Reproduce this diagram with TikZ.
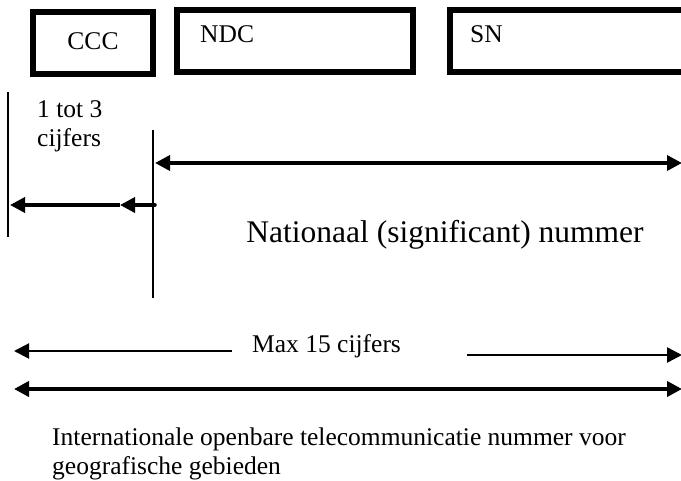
\documentclass[tikz,border=0pt]{standalone}
\usepackage{fontspec}
\setmainfont{Liberation Serif}
\usetikzlibrary{arrows.meta}
\begin{document}
\begin{tikzpicture}[x=1pt,y=-1pt,line join=miter,>={Triangle[length=15pt,width=15pt]}]
	\tikzset{every node/.style={font=\fontsize{25.5}{29}\selectfont,inner sep=0pt},
		cell/.style={draw,line width=6pt,minimum height=62pt},
		dim/.style={line width=3.5pt},
		rule/.style={line width=1.8pt}}
	\useasboundingbox (0,0) rectangle (681,481);
	% fields of the number
	\node[cell,minimum width=120pt] (ccc) at (93,43) {};
	\node[cell,minimum width=236pt] (ndc) at (295,41) {};
	\node[cell,minimum width=250pt] (sn) at (575,41) {};
	\node[anchor=base] (ccctxt) at (93,50) {CCC};
	\node[anchor=base west] (ndctxt) at (200,43) {NDC};
	\node[anchor=base west] (sntxt) at (470,43) {SN};
	% limits
	\coordinate (la) at (8,92); \coordinate (lb) at (8,237);
	\coordinate (ma) at (153,130); \coordinate (mb) at (153,298);
	\draw[rule] (la)--(lb);
	\draw[rule] (ma)--(mb);
	\node[anchor=north west,align=left] (cnt) at (37,100) {1 tot 3\\cijfers};
	% national part
	\coordinate (na) at (155,163); \coordinate (nb) at (682,163);
	\draw[dim,<->] (na)--(nb);
	\node[anchor=base,font=\fontsize{31.5}{36}\selectfont] (nat) at (445,243) {Nationaal (significant) nummer};
	% country code
	\coordinate (ca) at (155,205); \coordinate (cm) at (120,205); \coordinate (cb) at (10,205);
	\draw[dim,->,line cap=round] (ca)--(cm);
	\draw[dim,->] (cm)--(cb);
	% max length
	\node[anchor=base west] (max) at (252,353) {Max 15 cijfers};
	\coordinate (xa) at (232,351); \coordinate (xb) at (14,351);
	\coordinate (ya) at (467,355); \coordinate (yb) at (682,355);
	\draw[line width=2pt,->] (xa)--(xb);
	\draw[line width=2.5pt,->] (ya)--(yb);
	\coordinate (ia) at (14,389); \coordinate (ib) at (682,389);
	\draw[line width=4pt,<->] (ia)--(ib);
	\node[anchor=north west,align=left] (intl) at (52,427.5) {Internationale openbare telecommunicatie nummer voor\\geografische gebieden};
\end{tikzpicture}
\end{document}
